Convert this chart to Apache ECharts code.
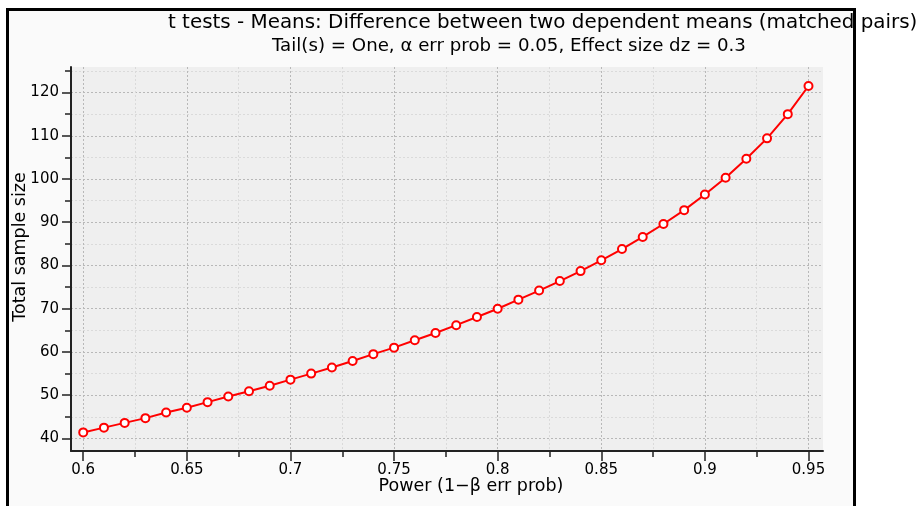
<!DOCTYPE html>
<html>
<head>
<meta charset="utf-8">
<script src="https://cdn.jsdelivr.net/npm/echarts@6/dist/echarts.min.js"></script>
<style>
  html, body { margin: 0; padding: 0; background: #ffffff; }
  #frame { position: absolute; left: 6px; top: 8px; width: 850px; height: 600px; box-sizing: border-box; border: 3px solid #000; background: #fafafa; }
  #chart { position: absolute; left: 0; top: 0; width: 919px; height: 506px; }
</style>
</head>
<body>
<div id="frame"></div>
<div id="chart"></div>
<script>
const titleText = 't tests - Means: Difference between two dependent means (matched pairs)';
const subtitleText = 'Tail(s) = One, \u03b1 err prob = 0.05, Effect size dz = 0.3';
const xName = 'Power (1\u2212\u03b2 err prob)';
const yName = 'Total sample size';

const powers = [0.60, 0.61, 0.62, 0.63, 0.64, 0.65, 0.66, 0.67, 0.68, 0.69,
                0.70, 0.71, 0.72, 0.73, 0.74, 0.75, 0.76, 0.77, 0.78, 0.79,
                0.80, 0.81, 0.82, 0.83, 0.84, 0.85, 0.86, 0.87, 0.88, 0.89,
                0.90, 0.91, 0.92, 0.93, 0.94, 0.95];
const sampleSizes = [41.4, 42.5, 43.6, 44.7, 46.0, 47.1, 48.4, 49.7, 50.9, 52.2,
                     53.6, 55.0, 56.4, 57.9, 59.5, 61.0, 62.7, 64.4, 66.2, 68.1,
                     70.0, 72.1, 74.2, 76.4, 78.7, 81.2, 83.8, 86.6, 89.6, 92.8,
                     96.4, 100.3, 104.7, 109.4, 115.0, 121.5];

const xTicks = [0.6, 0.65, 0.7, 0.75, 0.8, 0.85, 0.9, 0.95];
const xMinorTicks = [0.625, 0.675, 0.725, 0.775, 0.825, 0.875, 0.925];
const yTicks = [40, 50, 60, 70, 80, 90, 100, 110, 120];
const yMinorTicks = [45, 55, 65, 75, 85, 95, 105, 115, 125];

const xMin = 0.5941, xMax = 0.957;
const yMin = 37.1, yMax = 125.9;

const font = 'DejaVu Sans';
const chart = echarts.init(document.getElementById('chart'), null, { renderer: 'canvas' });

const seriesData = powers.map((p, i) => [p, sampleSizes[i]]);

chart.setOption({
  backgroundColor: 'transparent',
  animation: false,
  title: [
    { text: titleText, left: 163, top: 8, textStyle: { fontFamily: font, fontSize: 19.9, fontWeight: 'normal', color: '#000' } },
    { text: subtitleText, left: 267, top: 32, textStyle: { fontFamily: font, fontSize: 18.2, fontWeight: 'normal', color: '#000' } }
  ],
  grid: { left: 71, right: 96, top: 67, bottom: 55, show: true, backgroundColor: '#efefef', borderWidth: 0,
          outerBoundsMode: 'none', containLabel: false },
  xAxis: [
    {
      type: 'value', min: xMin, max: xMax, position: 'bottom',
      name: xName, nameLocation: 'middle', nameGap: 26, nameMoveOverlap: false,
      nameTextStyle: { fontFamily: font, fontSize: 17.5, color: '#000', padding: [0, 0, 0, 48] },
      axisLine: { show: true, onZero: false, lineStyle: { color: '#222', width: 2 } },
      axisTick: { show: true, inside: false, length: 10, customValues: xTicks, lineStyle: { color: '#222', width: 1.5 } },
      axisLabel: { show: true, customValues: xTicks, margin: 12, fontFamily: font, fontSize: 15, color: '#000',
                   showMinLabel: true, showMaxLabel: true },
      splitLine: { show: true, lineStyle: { color: '#b8b8b8', width: 1, type: [2, 2] } }
    },
    {
      type: 'value', min: xMin, max: xMax, position: 'bottom', offset: 0,
      axisLine: { show: false, onZero: false },
      axisTick: { show: true, inside: false, length: 6, customValues: xMinorTicks, lineStyle: { color: '#222', width: 1.5 } },
      axisLabel: { show: false, customValues: xMinorTicks },
      splitLine: { show: true, lineStyle: { color: '#dadada', width: 1, type: [2, 2] } }
    }
  ],
  yAxis: [
    {
      type: 'value', min: yMin, max: yMax, position: 'left',
      name: yName, nameLocation: 'middle', nameGap: 42, nameRotate: 90, nameMoveOverlap: false,
      nameTextStyle: { fontFamily: font, fontSize: 17.5, color: '#000', padding: [0, 0, 0, 24] },
      axisLine: { show: true, onZero: false, lineStyle: { color: '#222', width: 2 } },
      axisTick: { show: true, inside: false, length: 9, customValues: yTicks, lineStyle: { color: '#222', width: 1.5 } },
      axisLabel: { show: true, customValues: yTicks, margin: 12, fontFamily: font, fontSize: 15, color: '#000' },
      splitLine: { show: true, lineStyle: { color: '#b8b8b8', width: 1, type: [2, 2] } }
    },
    {
      type: 'value', min: yMin, max: yMax, position: 'left', offset: 0,
      axisLine: { show: false, onZero: false },
      axisTick: { show: true, inside: false, length: 6, customValues: yMinorTicks, lineStyle: { color: '#222', width: 1.5 } },
      axisLabel: { show: false, customValues: yMinorTicks },
      splitLine: { show: true, lineStyle: { color: '#dadada', width: 1, type: [2, 2] } }
    }
  ],
  series: [
    {
      type: 'line', xAxisIndex: 0, yAxisIndex: 0, data: seriesData,
      symbol: 'circle', symbolSize: 8, showSymbol: true,
      lineStyle: { color: '#ff0000', width: 2 },
      itemStyle: { color: '#ffffff', borderColor: '#ff0000', borderWidth: 2 },
      z: 5
    }
  ]
});
</script>
</body>
</html>
